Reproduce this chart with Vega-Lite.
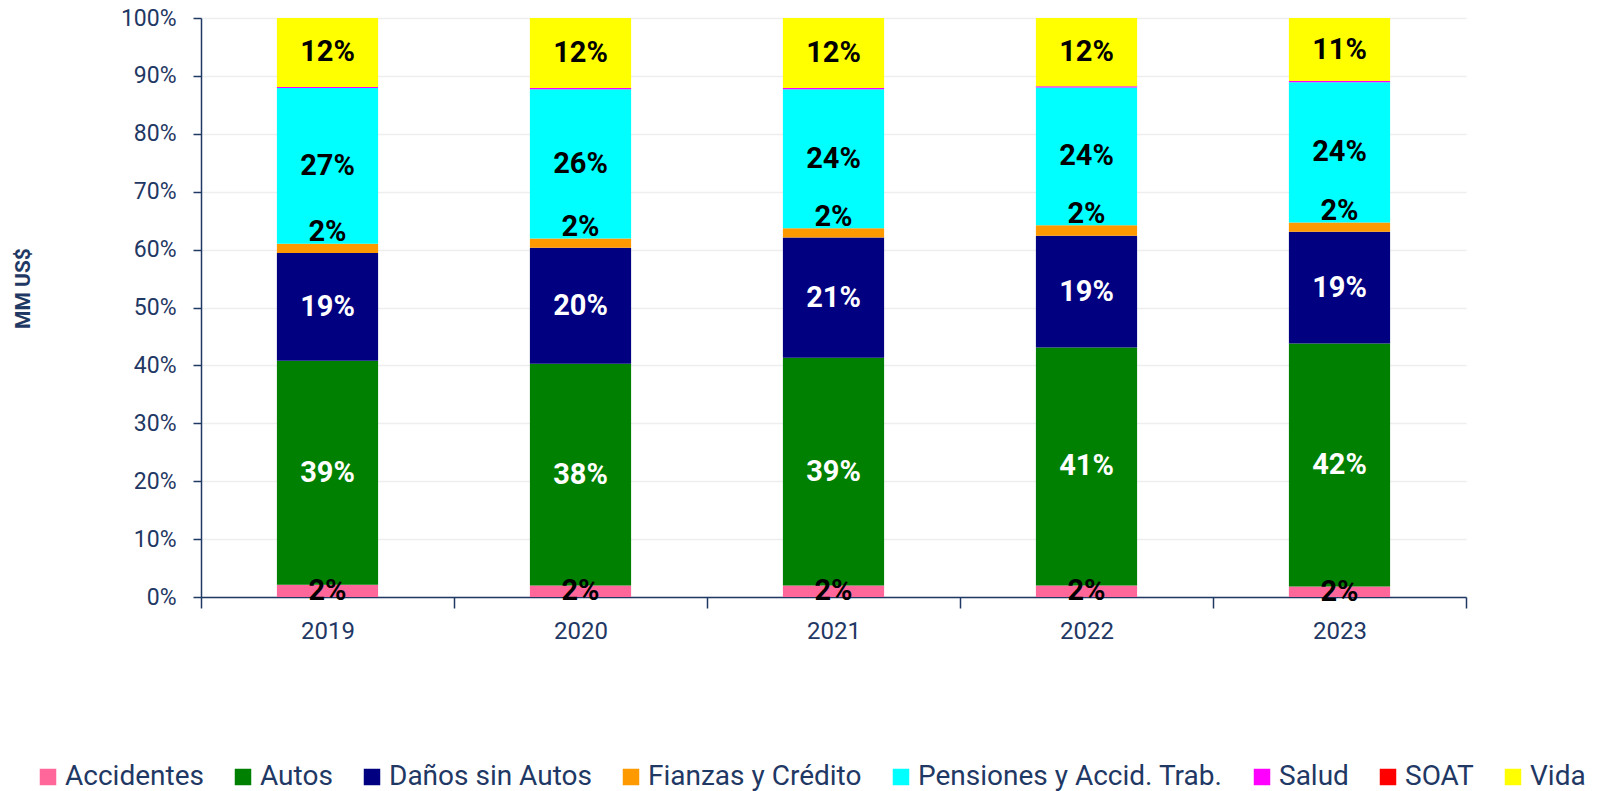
{
  "$schema": "https://vega.github.io/schema/vega-lite/v6.json",
  "width": 1265,
  "height": 579,
  "autosize": {"type": "none"},
  "padding": {"left": 201, "top": 18, "right": 155, "bottom": 194},
  "background": "white",
  "config": {"view": {"stroke": null}, "font": "Roboto"},
  "data": {
    "values": [
      {"year": "2019", "cat": "Accidentes", "v": 0.021},
      {"year": "2019", "cat": "Autos", "v": 0.387},
      {"year": "2019", "cat": "Daños sin Autos", "v": 0.186},
      {"year": "2019", "cat": "Fianzas y Crédito", "v": 0.016},
      {"year": "2019", "cat": "Pensiones y Accid. Trab.", "v": 0.269},
      {"year": "2019", "cat": "Salud", "v": 0.002},
      {"year": "2019", "cat": "SOAT", "v": 0.0},
      {"year": "2019", "cat": "Vida", "v": 0.119},
      {"year": "2020", "cat": "Accidentes", "v": 0.020},
      {"year": "2020", "cat": "Autos", "v": 0.383},
      {"year": "2020", "cat": "Daños sin Autos", "v": 0.200},
      {"year": "2020", "cat": "Fianzas y Crédito", "v": 0.016},
      {"year": "2020", "cat": "Pensiones y Accid. Trab.", "v": 0.258},
      {"year": "2020", "cat": "Salud", "v": 0.002},
      {"year": "2020", "cat": "SOAT", "v": 0.0},
      {"year": "2020", "cat": "Vida", "v": 0.121},
      {"year": "2021", "cat": "Accidentes", "v": 0.020},
      {"year": "2021", "cat": "Autos", "v": 0.393},
      {"year": "2021", "cat": "Daños sin Autos", "v": 0.208},
      {"year": "2021", "cat": "Fianzas y Crédito", "v": 0.016},
      {"year": "2021", "cat": "Pensiones y Accid. Trab.", "v": 0.240},
      {"year": "2021", "cat": "Salud", "v": 0.002},
      {"year": "2021", "cat": "SOAT", "v": 0.0},
      {"year": "2021", "cat": "Vida", "v": 0.121},
      {"year": "2022", "cat": "Accidentes", "v": 0.020},
      {"year": "2022", "cat": "Autos", "v": 0.411},
      {"year": "2022", "cat": "Daños sin Autos", "v": 0.193},
      {"year": "2022", "cat": "Fianzas y Crédito", "v": 0.018},
      {"year": "2022", "cat": "Pensiones y Accid. Trab.", "v": 0.238},
      {"year": "2022", "cat": "Salud", "v": 0.002},
      {"year": "2022", "cat": "SOAT", "v": 0.0},
      {"year": "2022", "cat": "Vida", "v": 0.118},
      {"year": "2023", "cat": "Accidentes", "v": 0.018},
      {"year": "2023", "cat": "Autos", "v": 0.420},
      {"year": "2023", "cat": "Daños sin Autos", "v": 0.193},
      {"year": "2023", "cat": "Fianzas y Crédito", "v": 0.016},
      {"year": "2023", "cat": "Pensiones y Accid. Trab.", "v": 0.242},
      {"year": "2023", "cat": "Salud", "v": 0.002},
      {"year": "2023", "cat": "SOAT", "v": 0.0},
      {"year": "2023", "cat": "Vida", "v": 0.109}
    ]
  },
  "transform": [
    {"stack": "v", "groupby": ["year"], "sort": [{"field": "cat", "order": "ascending"}], "as": ["v0", "v1"]},
    {"calculate": "(datum.v0 + datum.v1) / 2", "as": "mid"}
  ],
  "encoding": {
    "x": {
      "field": "year",
      "type": "nominal",
      "scale": {"paddingInner": 0, "paddingOuter": 0},
      "axis": {
        "title": null,
        "labelAngle": 0,
        "labelFontSize": 24,
        "labelColor": "#1F3864",
        "labelPadding": 11,
        "tickBand": "extent",
        "tickSize": 11,
        "tickColor": "#1F3864",
        "tickWidth": 1.5,
        "domainColor": "#1F3864",
        "domainWidth": 1.5,
        "grid": false
      }
    }
  },
  "layer": [
    {
      "mark": {"type": "bar", "width": {"band": 0.4}},
      "encoding": {
        "y": {
          "field": "v0",
          "type": "quantitative",
          "scale": {"domain": [0, 1]},
          "axis": {
            "values": [0, 0.1, 0.2, 0.3, 0.4, 0.5, 0.6, 0.7, 0.8, 0.9, 1],
            "format": ".0%",
            "title": "MM US$",
            "titleFontSize": 21,
            "titleFontWeight": "bold",
            "titleColor": "#1F3864",
            "titleX": -178,
            "titleY": 270,
            "titleAlign": "center",
            "titleBaseline": "middle",
            "labelFontSize": 23,
            "labelColor": "#1F3864",
            "labelPadding": 17,
            "tickSize": 8,
            "tickColor": "#1F3864",
            "tickWidth": 1.5,
            "domainColor": "#1F3864",
            "domainWidth": 1.5,
            "gridColor": "#EEEEEE",
            "gridWidth": 1.5
          }
        },
        "y2": {"field": "v1"},
        "color": {
          "field": "cat",
          "type": "nominal",
          "scale": {
            "domain": ["Accidentes", "Autos", "Daños sin Autos", "Fianzas y Crédito", "Pensiones y Accid. Trab.", "Salud", "SOAT", "Vida"],
            "range": ["#FF6699", "#008000", "#000080", "#FF9900", "#00FFFF", "#FF00FF", "#FF0000", "#FFFF00"]
          },
          "legend": {
            "orient": "none",
            "direction": "horizontal",
            "columns": 8,
            "legendX": -167,
            "legendY": 745,
            "title": null,
            "padding": 0,
            "symbolType": "square",
            "symbolSize": 272,
            "symbolStrokeWidth": 0,
            "labelFontSize": 28,
            "labelFont": "Roboto",
            "labelColor": "#1F3864",
            "labelOffset": 3,
            "columnPadding": 25,
            "labelLimit": 600
          }
        }
      }
    },
    {
      "transform": [{"filter": "datum.cat !== 'Salud' && datum.cat !== 'SOAT' && datum.cat !== 'Fianzas y Crédito'"}],
      "mark": {"type": "text", "font": "Roboto", "fontWeight": "bold", "fontSize": 29, "align": "center", "baseline": "middle"},
      "encoding": {
        "y": {"field": "mid", "type": "quantitative"},
        "text": {"field": "v", "type": "quantitative", "format": ".0%"},
        "color": {"condition": {"test": "datum.cat === 'Autos' || datum.cat === 'Daños sin Autos'", "value": "white"}, "value": "black"}
      }
    },
    {
      "transform": [{"filter": "datum.cat === 'Fianzas y Crédito'"}],
      "mark": {"type": "text", "font": "Roboto", "fontWeight": "bold", "fontSize": 29, "align": "center", "baseline": "middle", "dy": -16, "color": "black"},
      "encoding": {
        "y": {"field": "mid", "type": "quantitative"},
        "text": {"field": "v", "type": "quantitative", "format": ".0%"}
      }
    }
  ]
}
